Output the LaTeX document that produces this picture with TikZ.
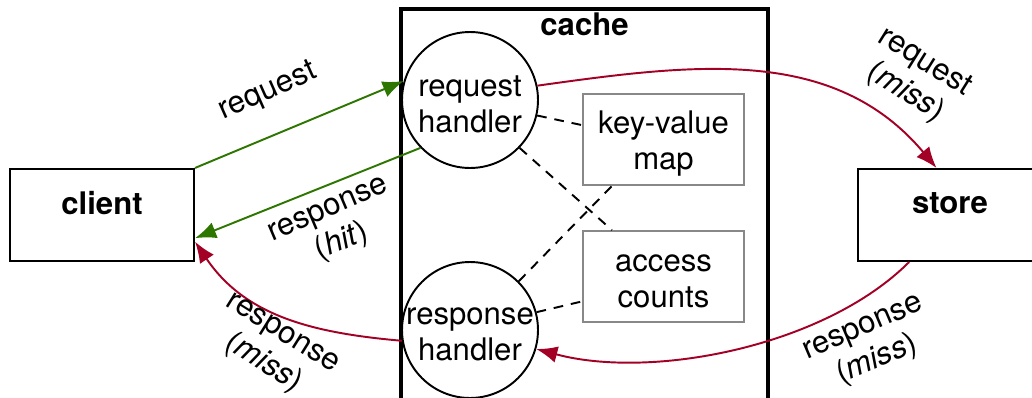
\documentclass[tikz,border=0pt]{standalone}
\usepackage{fontspec}
\setmainfont{TeX Gyre Heros}
\usetikzlibrary{arrows.meta}
\usetikzlibrary{positioning}
\definecolor{hitgreen}{HTML}{2D7600}
\definecolor{missred}{HTML}{A20025}
\definecolor{boxgray}{HTML}{888888}
\tikzset{
  >={Latex[length=12pt,width=9.5pt]}, % filled heads on every connector
  outer box/.style={draw,line width=1.2pt,minimum width=3.68cm,minimum height=1.84cm},
  cache box/.style={draw,line width=2.3pt,minimum width=7.34cm,minimum height=8.16cm},
  handler/.style={draw,circle,line width=1.1pt,minimum size=2.72cm,inner sep=0},
  data box/.style={draw=boxgray,line width=1.1pt,minimum width=3.22cm,minimum height=1.82cm},
  inner text/.style={align=center,yshift=-0.09cm},
  connect hit/.style={->,line width=1.1pt,hitgreen},
  connect miss/.style={->,line width=1.1pt,missred},
  connect data/.style={line width=1.1pt,dash pattern=on 5.5pt off 4.5pt},
  edge label/.style={align=center}
}

\begin{document}
\begin{tikzpicture}[x=0.02cm,y=0.02cm,font=\fontsize{17.7}{20.5}\selectfont]
    \useasboundingbox (0,0) rectangle (1032,397);

    % Client and store
    \node[outer box, label={[yshift=0.24cm]center:\textbf{client}}] (client) at (102,182) {};
    \node[outer box, label={[yshift=0.24cm]center:\textbf{store}}] (store) at (950,182) {};

    % The cache and what sits inside it
    \node[cache box, label={[below]north:\textbf{cache}}] (cache) at (584.5,184) {};
    \node[handler, label={[inner text]center:request\\handler}] (reqh) at (470,297) {};
    \node[handler, label={[inner text]center:response\\handler}] (resph) at (470,67) {};
    \node[data box, label={[inner text]center:key-value\\map}] (kvmap) at (663.5,257.5) {};
    \node[data box, label={[inner text]center:access\\counts}] (counts) at (663.5,120.5) {};

    % Handlers use the data
    \draw[connect data] (reqh.-13) -- (kvmap.170);
    \draw[connect data] (reqh.-44) -- (counts.138);
    \draw[connect data] (resph.45) -- (kvmap.222);
    \draw[connect data] (resph.15) -- (counts.197);

    % Hit path
    \draw[connect hit] (client.north east) -- (reqh.164);
    \draw[connect hit] (reqh.224) -- (client.-14);

    % Miss path
    \draw[connect miss] (reqh.12) to[out=8,in=130] (store.106);
    \draw[connect miss] (store.229) to[out=225,in=-15,looseness=0.8] (resph.-16);
    \draw[connect miss] (resph.189) to[out=175,in=-56] (client.-16);

    % Label the connectors
    \node[edge label, rotate=24] (reqlabel) at (268,305) {request};
    \node[edge label, rotate=23] (hitlabel) at (336,169) {response\\(\textit{hit})};
    \node[edge label, rotate=-32] (missback) at (272,47) {response\\(\textit{miss})};
    \node[edge label, rotate=-32] (missreq) at (915,319) {request\\(\textit{miss})};
    \node[edge label, rotate=23] (missresp) at (871,51) {response\\(\textit{miss})};
\end{tikzpicture}
\end{document}
